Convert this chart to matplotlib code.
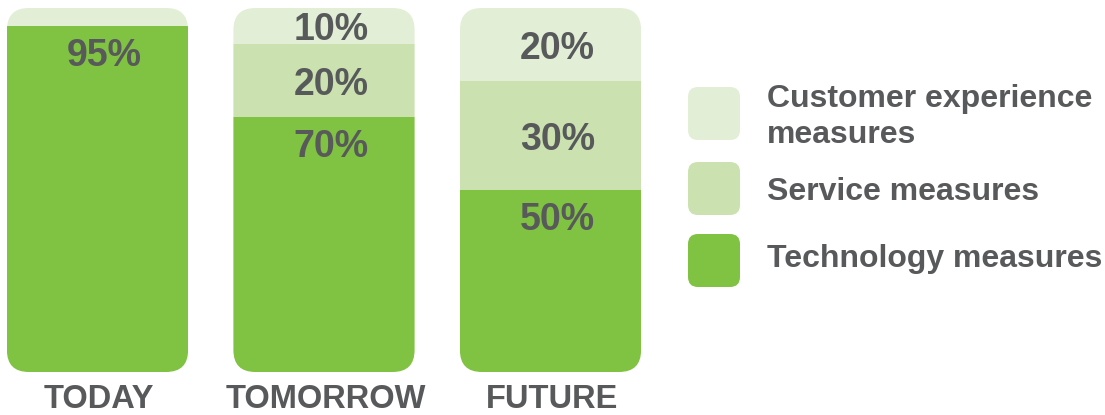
import matplotlib
matplotlib.use("Agg")
import matplotlib.pyplot as plt
from matplotlib.patches import FancyBboxPatch

plt.rcParams['font.family'] = ['Liberation Sans', 'DejaVu Sans']
plt.rcParams['font.weight'] = 'bold'

# data
categories = ["TODAY", "TOMORROW", "FUTURE"]
series_names = ["Technology measures", "Service measures", "Customer experience\nmeasures"]
technology = [95, 70, 50]
service = [0, 20, 30]
customer = [5, 10, 20]
show_label = [[True, True, True], [False, True, True], [False, True, True]]

colors = ["#80c241", "#cbe2b0", "#e2efd6"]
text_color = "#58595b"

W, H = 1105, 415
fig = plt.figure(figsize=(W / 100, H / 100), dpi=100)

# bar axes, placed in pixel terms
ax_left, ax_right = 0, 660
bar_top, bar_bottom = 8, 372
ax = fig.add_axes([ax_left / W, (H - bar_bottom) / H,
                   (ax_right - ax_left) / W, (bar_bottom - bar_top) / H])
unit_px = 226.5
x0_px = 97.5
ax.set_xlim(-(x0_px - ax_left) / unit_px, (ax_right - x0_px) / unit_px)
ax.set_ylim(0, 100)
ax.axis("off")

xs = list(range(len(categories)))
width = 0.8
stack = [technology, service, customer]

# rounded outlines used to clip each stacked bar
radius_px = 22
px_x = 1 / unit_px
px_y = 100 / (bar_bottom - bar_top)
clips = []
for x in xs:
    clip = FancyBboxPatch((x - width / 2, 0), width, 100,
                          boxstyle=f"round,pad=0,rounding_size={radius_px * px_x}",
                          mutation_aspect=px_y / px_x,
                          transform=ax.transData, fc="none", ec="none")
    ax.add_patch(clip)
    clips.append(clip)

bottoms = [0] * len(categories)
for vals, color, labels in zip(stack, colors, show_label):
    bars = ax.bar(xs, vals, width=width, bottom=bottoms, color=color, linewidth=0)
    for i, bar in enumerate(bars):
        bar.set_clip_path(clips[i])
        if vals[i] > 0 and labels[i]:
            top = bottoms[i] + vals[i]
            # small segments: centred, tall ones: near the top
            y = top - vals[i] / 2 if vals[i] <= 30 else top - 7
            ax.annotate(f"{vals[i]}%", (xs[i], y), xytext=(5, -3),
                        textcoords="offset points", ha="center", va="center",
                        fontsize=27, fontweight="bold", color=text_color)
    bottoms = [b + v for b, v in zip(bottoms, vals)]

for x, cat in zip(xs, categories):
    ax.annotate(cat, (x, 0), xytext=(1, -20), textcoords="offset points",
                ha="center", va="center", fontsize=23.5, fontweight="bold",
                color=text_color, annotation_clip=False)

# legend drawn on an overlay in pixel coordinates
lg = fig.add_axes([0, 0, 1, 1])
lg.set_xlim(0, W)
lg.set_ylim(H, 0)
lg.axis("off")

legend_rows = [(series_names[2], colors[2], 87, [107, 143]),
               (series_names[1], colors[1], 162, [200]),
               (series_names[0], colors[0], 234, [267])]
for name, color, sq_top, baselines in legend_rows:
    sq = FancyBboxPatch((688, sq_top), 52, 53,
                        boxstyle="round,pad=0,rounding_size=10",
                        fc=color, ec="none")
    lg.add_patch(sq)
    for line, base in zip(name.split("\n"), baselines):
        lg.text(767, base, line, ha="left", va="baseline", fontsize=23,
                fontweight="bold", color=text_color)

fig.savefig("out.png", dpi=100)
